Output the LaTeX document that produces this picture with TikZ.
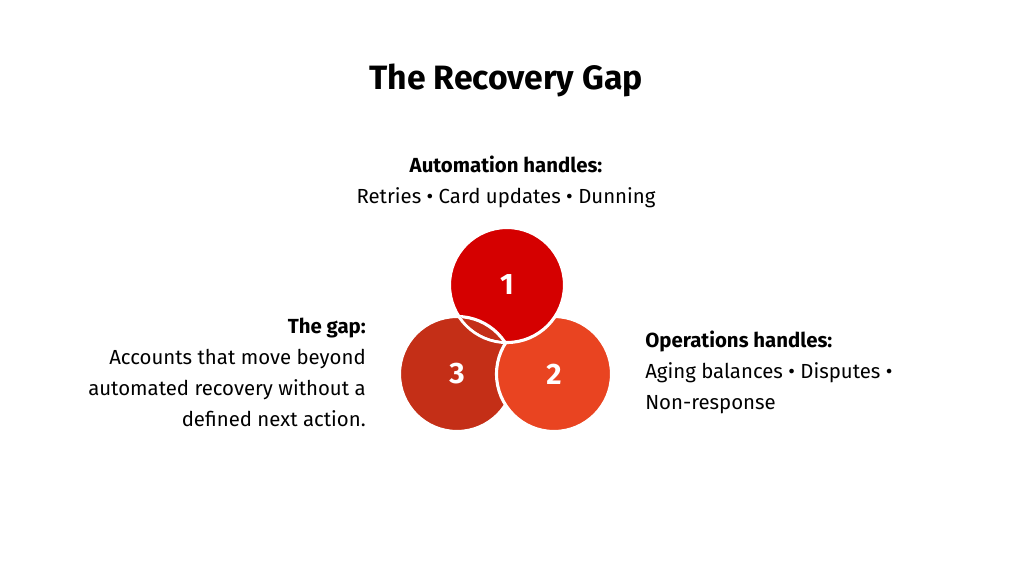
\documentclass[tikz,border=0pt]{standalone}
\usepackage{fontspec}
\setmainfont{Fira Sans}
\definecolor{cOne}{HTML}{D50000}
\definecolor{cTwo}{HTML}{E94421}
\definecolor{cThree}{HTML}{C42F17}
\begin{document}
\begin{tikzpicture}[x=0.025cm,y=-0.025cm,
  blob/.style={circle,draw=white,line width=2.2pt,minimum size=115*0.025cm,inner sep=0pt,text=white,font=\fontsize{21}{21}\selectfont\bfseries},
  body/.style={font=\fontsize{14.5}{22}\selectfont,inner sep=0pt}]
\useasboundingbox (0,0) rectangle (1012,569);

\node[font=\fontsize{24}{24}\selectfont\bfseries] (title) at (506,80) {The Recovery Gap};

\node[body,align=center] (auto) at (506,182) {\textbf{Automation handles:}\\Retries • Card updates • Dunning};
\node[body,align=right,anchor=east] (gap) at (366,372) {\textbf{The gap:}\\Accounts that move beyond\\automated recovery without a\\defined next action.};
\node[body,align=left,anchor=west] (ops) at (645,372) {\textbf{Operations handles:}\\Aging balances • Disputes •\\Non-response};

% cyclic overlap
\node[blob,fill=cThree] (c3) at (457,374) {3};
\node[blob,fill=cTwo] (c2) at (554,374) {2};
\node[blob,fill=cOne] (c1) at (507,285) {1};
\begin{scope}
\clip (507,285) circle (56);
\node[blob,fill=cThree] at (457,374) {3};
\end{scope}
\end{tikzpicture}
\end{document}
